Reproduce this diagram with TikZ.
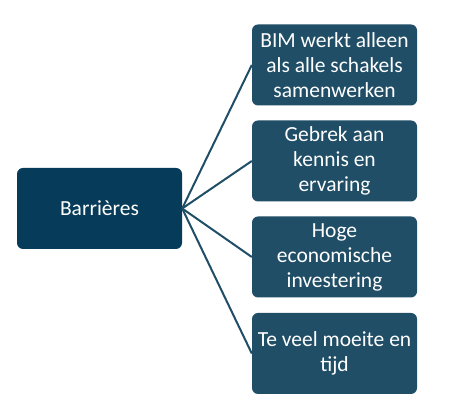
\documentclass[tikz,border=0pt]{standalone}
\usepackage{fontspec}
\setmainfont{Carlito}
\definecolor{maincol}{HTML}{073B5A}
\definecolor{subcol}{HTML}{1F4E66}
\begin{document}
\begin{tikzpicture}[x=1pt,y=1pt,
  boxbase/.style={rounded corners=6pt,minimum width=165pt,minimum height=81pt,text=white,font=\fontsize{21.5}{25}\selectfont,align=center,inner sep=0pt},
  mainbox/.style={boxbase,fill=maincol},
  subbox/.style={boxbase,fill=subcol},
  link/.style={draw=subcol,line width=2pt}]
\useasboundingbox (0,0) rectangle (458,419);
\node[mainbox] (m) at (99.5,210.5) {Barrières};
\node[subbox] (b1) at (334.5,354) {BIM werkt alleen\\als alle schakels\\samenwerken};
\node[subbox] (b2) at (334.5,258) {Gebrek aan\\kennis en\\ervaring};
\node[subbox] (b3) at (334.5,162) {Hoge\\economische\\investering};
\node[subbox] (b4) at (334.5,65.5) {Te veel moeite en\\tijd};
\foreach \b in {b1,b2,b3,b4} \draw[link] (m.east) -- (\b.west);
\end{tikzpicture}
\end{document}
